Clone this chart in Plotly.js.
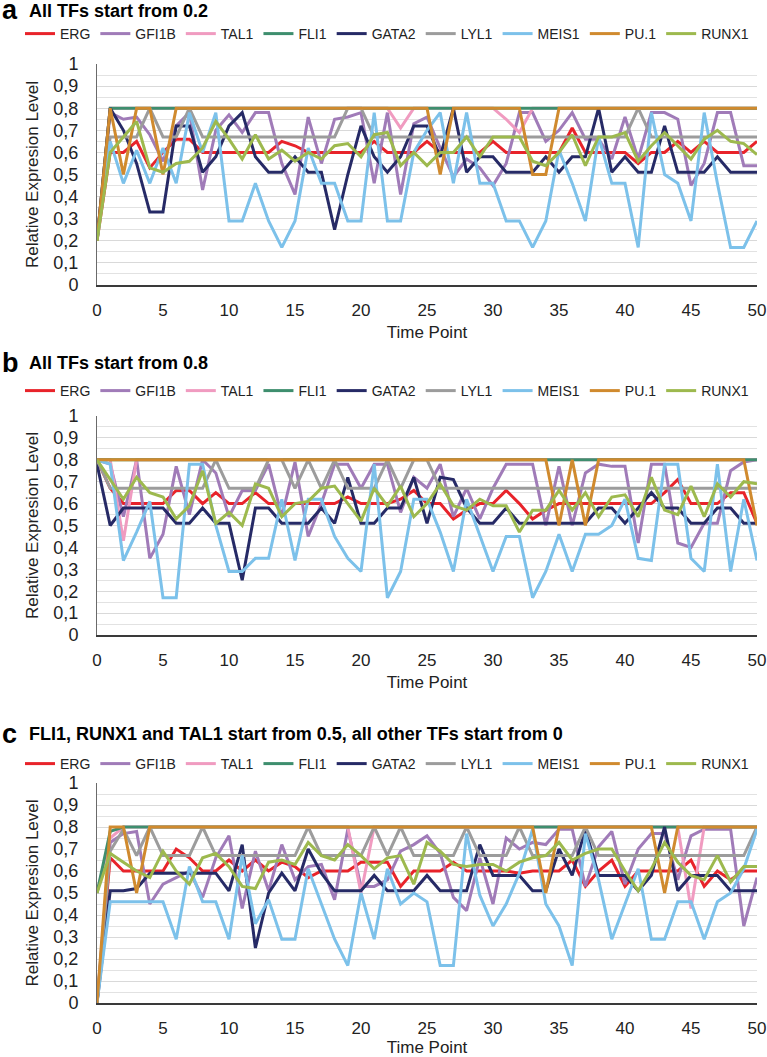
<!DOCTYPE html>
<html>
<head>
<meta charset="utf-8">
<script src="https://cdn.plot.ly/plotly-3.0.1.min.js"></script>
<style>
  html, body { margin: 0; padding: 0; background: #fff; }
  #chart { width: 767px; height: 1057px; }
</style>
</head>
<body>
<div id="chart"></div>
<script>
// ---------- categories ----------
const timePoints = [0,1,2,3,4,5,6,7,8,9,10,11,12,13,14,15,16,17,18,19,20,21,22,23,24,25,26,27,28,29,30,31,32,33,34,35,36,37,38,39,40,41,42,43,44,45,46,47,48,49,50];
const seriesNames = ['ERG','GFI1B','TAL1','FLI1','GATA2','LYL1','MEIS1','PU.1','RUNX1'];
const seriesColors = ['#E8232A','#A07BB8','#F09BC0','#3E8E6E','#262A66','#9C9C9C','#7CC1EA','#D08A2E','#9DB94E'];
const panelTitles = ['All TFs start from 0.2','All TFs start from 0.8','FLI1, RUNX1 and TAL1 start from 0.5, all other TFs start from 0'];
const panelLetters = ['a','b','c'];
const yTitle = 'Relative Expresion Level';
const xTitle = 'Time Point';

// ---------- panel a : all TFs start from 0.2 ----------
const ERG_a   = [0.2,0.6,0.6,0.65,0.53,0.6,0.66,0.66,0.6,0.6, 0.6,0.6,0.6,0.6,0.65,0.63,0.6,0.6,0.6,0.6, 0.6,0.65,0.6,0.6,0.6,0.65,0.6,0.6,0.6,0.6, 0.65,0.6,0.6,0.6,0.6,0.6,0.71,0.6,0.6,0.6, 0.6,0.55,0.6,0.6,0.65,0.6,0.65,0.6,0.6,0.6, 0.65];
const GFI1B_a = [0.2,0.78,0.75,0.76,0.68,0.56,0.72,0.78,0.43,0.7, 0.77,0.69,0.78,0.78,0.55,0.41,0.76,0.55,0.75,0.76, 0.78,0.46,0.78,0.41,0.73,0.76,0.62,0.49,0.57,0.53, 0.45,0.55,0.78,0.78,0.65,0.7,0.78,0.66,0.66,0.57, 0.76,0.57,0.78,0.78,0.75,0.45,0.55,0.78,0.78,0.54, 0.54];
const TAL1_a  = [0.2,0.8,0.8,0.8,0.8,0.8,0.8,0.8,0.8,0.8, 0.8,0.8,0.8,0.8,0.8,0.8,0.8,0.8,0.8,0.8, 0.8,0.8,0.8,0.71,0.8,0.8,0.8,0.8,0.8,0.8, 0.8,0.75,0.69,0.8,0.8,0.8,0.8,0.8,0.8,0.8, 0.8,0.8,0.8,0.8,0.8,0.8,0.8,0.8,0.8,0.8, 0.8];
const FLI1_a  = [0.2,0.8,0.8,0.8,0.8,0.8,0.8,0.8,0.8,0.8, 0.8,0.8,0.8,0.8,0.8,0.8,0.8,0.8,0.8,0.8, 0.8,0.8,0.8,0.8,0.8,0.8,0.8,0.8,0.8,0.8, 0.8,0.8,0.8,0.8,0.8,0.8,0.8,0.8,0.8,0.8, 0.8,0.8,0.8,0.8,0.8,0.8,0.8,0.8,0.8,0.8, 0.8];
const GATA2_a = [0.2,0.8,0.7,0.55,0.33,0.33,0.72,0.72,0.51,0.58, 0.72,0.78,0.58,0.51,0.51,0.58,0.51,0.51,0.25,0.5, 0.72,0.58,0.51,0.58,0.72,0.72,0.58,0.8,0.51,0.58, 0.58,0.51,0.51,0.51,0.58,0.51,0.58,0.58,0.8,0.51, 0.58,0.51,0.51,0.72,0.51,0.51,0.51,0.58,0.51,0.51, 0.51];
const LYL1_a  = [0.2,0.67,0.67,0.67,0.8,0.67,0.67,0.8,0.67,0.67, 0.67,0.67,0.67,0.67,0.67,0.67,0.67,0.67,0.67,0.8, 0.8,0.67,0.67,0.67,0.67,0.67,0.67,0.67,0.67,0.67, 0.67,0.67,0.67,0.67,0.67,0.67,0.67,0.67,0.67,0.67, 0.67,0.8,0.67,0.67,0.67,0.67,0.67,0.67,0.67,0.67, 0.67];
const MEIS1_a = [0.2,0.65,0.46,0.61,0.46,0.62,0.46,0.78,0.6,0.78, 0.29,0.29,0.46,0.29,0.17,0.29,0.62,0.46,0.46,0.29, 0.29,0.78,0.29,0.29,0.6,0.7,0.78,0.46,0.78,0.46, 0.46,0.29,0.29,0.17,0.29,0.61,0.46,0.29,0.67,0.46, 0.46,0.17,0.78,0.5,0.46,0.29,0.78,0.46,0.17,0.17, 0.29];
const PU1_a   = [0.2,0.8,0.5,0.8,0.8,0.5,0.8,0.8,0.8,0.8, 0.8,0.8,0.8,0.8,0.8,0.8,0.8,0.8,0.8,0.8, 0.8,0.8,0.8,0.8,0.8,0.8,0.5,0.8,0.8,0.8, 0.8,0.8,0.8,0.5,0.5,0.8,0.8,0.8,0.8,0.8, 0.8,0.8,0.8,0.8,0.8,0.8,0.8,0.8,0.8,0.8, 0.8];
const RUNX1_a = [0.2,0.6,0.67,0.74,0.53,0.51,0.55,0.56,0.62,0.74, 0.66,0.57,0.68,0.57,0.61,0.56,0.6,0.57,0.63,0.64, 0.58,0.68,0.69,0.54,0.6,0.54,0.6,0.6,0.67,0.58, 0.67,0.67,0.67,0.56,0.54,0.6,0.68,0.54,0.67,0.67, 0.69,0.56,0.63,0.69,0.63,0.57,0.66,0.7,0.65,0.64, 0.59];

// ---------- panel b : all TFs start from 0.8 ----------
const ERG_b   = [0.8,0.67,0.6,0.6,0.6,0.6,0.66,0.66,0.6,0.65, 0.6,0.6,0.65,0.6,0.6,0.6,0.6,0.6,0.6,0.63, 0.6,0.6,0.6,0.62,0.66,0.6,0.6,0.53,0.57,0.6, 0.6,0.66,0.6,0.53,0.57,0.6,0.6,0.6,0.6,0.6, 0.6,0.6,0.6,0.65,0.71,0.6,0.6,0.6,0.65,0.65, 0.51];
const GFI1B_b = [0.8,0.78,0.54,0.8,0.35,0.46,0.77,0.55,0.8,0.74, 0.54,0.66,0.66,0.78,0.54,0.79,0.45,0.6,0.78,0.78, 0.67,0.78,0.78,0.56,0.72,0.67,0.78,0.54,0.67,0.53, 0.67,0.78,0.78,0.78,0.5,0.77,0.5,0.74,0.78,0.77, 0.77,0.42,0.78,0.78,0.42,0.4,0.51,0.51,0.75,0.79, 0.8];
const TAL1_b  = [0.8,0.8,0.43,0.8,0.8,0.8,0.8,0.8,0.8,0.8, 0.8,0.8,0.8,0.8,0.8,0.8,0.8,0.8,0.8,0.8, 0.8,0.8,0.8,0.8,0.8,0.8,0.8,0.8,0.8,0.8, 0.8,0.8,0.8,0.8,0.8,0.8,0.8,0.8,0.8,0.8, 0.8,0.8,0.8,0.8,0.8,0.8,0.8,0.8,0.8,0.8, 0.8];
const FLI1_b  = [0.8,0.8,0.8,0.8,0.8,0.8,0.8,0.8,0.8,0.8, 0.8,0.8,0.8,0.8,0.8,0.8,0.8,0.8,0.8,0.8, 0.8,0.8,0.8,0.8,0.8,0.8,0.8,0.8,0.8,0.8, 0.8,0.8,0.8,0.8,0.8,0.8,0.8,0.8,0.8,0.8, 0.8,0.8,0.8,0.8,0.8,0.8,0.8,0.8,0.8,0.8, 0.8];
const GATA2_b = [0.78,0.5,0.58,0.58,0.58,0.58,0.51,0.51,0.58,0.51, 0.51,0.25,0.58,0.58,0.51,0.51,0.51,0.58,0.51,0.72, 0.51,0.51,0.58,0.58,0.72,0.51,0.72,0.71,0.58,0.51, 0.51,0.58,0.51,0.51,0.51,0.51,0.51,0.51,0.58,0.58, 0.51,0.58,0.65,0.58,0.58,0.51,0.51,0.58,0.58,0.51, 0.51];
const LYL1_b  = [0.8,0.67,0.67,0.67,0.67,0.67,0.67,0.67,0.67,0.8, 0.67,0.67,0.67,0.8,0.8,0.67,0.8,0.67,0.8,0.67, 0.67,0.67,0.8,0.67,0.8,0.8,0.67,0.67,0.67,0.67, 0.67,0.67,0.67,0.67,0.67,0.67,0.67,0.67,0.67,0.67, 0.67,0.67,0.67,0.67,0.67,0.67,0.67,0.67,0.67,0.67, 0.67];
const MEIS1_b = [0.8,0.78,0.34,0.47,0.61,0.17,0.17,0.78,0.78,0.5, 0.29,0.29,0.35,0.35,0.62,0.34,0.62,0.62,0.45,0.35, 0.29,0.78,0.17,0.29,0.62,0.62,0.47,0.29,0.62,0.45, 0.29,0.45,0.45,0.17,0.29,0.46,0.29,0.46,0.46,0.5, 0.62,0.35,0.34,0.78,0.78,0.35,0.29,0.78,0.29,0.62, 0.34];
const PU1_b   = [0.8,0.8,0.8,0.8,0.8,0.8,0.8,0.8,0.8,0.8, 0.8,0.8,0.8,0.8,0.8,0.8,0.8,0.8,0.8,0.8, 0.8,0.8,0.8,0.8,0.8,0.8,0.8,0.8,0.8,0.8, 0.8,0.8,0.8,0.8,0.8,0.5,0.8,0.5,0.8,0.8, 0.8,0.8,0.8,0.8,0.8,0.8,0.8,0.8,0.8,0.8, 0.5];
const RUNX1_b = [0.8,0.71,0.62,0.72,0.65,0.63,0.53,0.59,0.75,0.51, 0.56,0.5,0.69,0.67,0.54,0.6,0.61,0.67,0.68,0.6, 0.52,0.67,0.59,0.68,0.54,0.6,0.69,0.59,0.57,0.62, 0.59,0.59,0.47,0.57,0.57,0.66,0.57,0.65,0.54,0.63, 0.64,0.54,0.72,0.57,0.55,0.68,0.54,0.69,0.63,0.7, 0.69];

// ---------- panel c : FLI1, RUNX1, TAL1 start from 0.5, others from 0 ----------
const ERG_c   = [0,0.66,0.6,0.6,0.6,0.6,0.7,0.66,0.6,0.6, 0.65,0.6,0.65,0.6,0.64,0.62,0.57,0.6,0.6,0.6, 0.64,0.64,0.64,0.53,0.6,0.6,0.6,0.64,0.6,0.6, 0.6,0.6,0.59,0.6,0.6,0.6,0.65,0.53,0.6,0.65, 0.53,0.6,0.6,0.6,0.6,0.65,0.53,0.6,0.56,0.6, 0.6];
const GFI1B_c = [0,0.73,0.77,0.78,0.45,0.54,0.57,0.6,0.48,0.66, 0.76,0.43,0.69,0.51,0.72,0.56,0.62,0.63,0.47,0.79, 0.53,0.53,0.56,0.69,0.72,0.76,0.68,0.48,0.42,0.66, 0.45,0.75,0.7,0.73,0.72,0.79,0.79,0.53,0.71,0.78, 0.54,0.7,0.77,0.77,0.56,0.76,0.79,0.79,0.79,0.35, 0.57];
const TAL1_c  = [0.5,0.75,0.8,0.8,0.8,0.8,0.8,0.8,0.8,0.8, 0.8,0.8,0.8,0.8,0.8,0.8,0.8,0.8,0.8,0.8, 0.5,0.8,0.8,0.8,0.8,0.8,0.8,0.8,0.8,0.8, 0.8,0.8,0.8,0.8,0.8,0.8,0.8,0.8,0.8,0.8, 0.8,0.8,0.8,0.8,0.8,0.43,0.8,0.8,0.8,0.8, 0.8];
const FLI1_c  = [0.5,0.78,0.8,0.8,0.8,0.8,0.8,0.8,0.8,0.8, 0.8,0.8,0.8,0.8,0.8,0.8,0.8,0.8,0.8,0.8, 0.8,0.8,0.8,0.8,0.8,0.8,0.8,0.8,0.8,0.8, 0.8,0.8,0.8,0.8,0.8,0.8,0.8,0.8,0.8,0.8, 0.8,0.8,0.8,0.8,0.8,0.8,0.8,0.8,0.8,0.8, 0.8];
const GATA2_c = [0,0.51,0.51,0.52,0.59,0.59,0.59,0.59,0.59,0.59, 0.51,0.72,0.25,0.5,0.59,0.51,0.7,0.59,0.51,0.51, 0.51,0.58,0.51,0.51,0.51,0.58,0.51,0.51,0.51,0.72, 0.58,0.58,0.58,0.51,0.51,0.7,0.58,0.79,0.58,0.58, 0.58,0.51,0.58,0.8,0.51,0.58,0.58,0.58,0.51,0.51, 0.51];
const LYL1_c  = [0,0.69,0.79,0.67,0.8,0.67,0.67,0.67,0.8,0.67, 0.67,0.67,0.67,0.67,0.67,0.67,0.8,0.67,0.67,0.67, 0.67,0.8,0.67,0.8,0.67,0.67,0.67,0.67,0.8,0.67, 0.67,0.67,0.8,0.67,0.67,0.67,0.67,0.8,0.67,0.67, 0.67,0.67,0.67,0.67,0.67,0.67,0.67,0.67,0.67,0.67, 0.8];
const MEIS1_c = [0,0.46,0.46,0.46,0.46,0.46,0.29,0.62,0.46,0.46, 0.29,0.67,0.36,0.47,0.29,0.29,0.61,0.45,0.29,0.17, 0.5,0.29,0.61,0.45,0.5,0.46,0.17,0.17,0.77,0.49, 0.35,0.45,0.59,0.79,0.45,0.35,0.17,0.77,0.56,0.29, 0.45,0.61,0.29,0.29,0.46,0.46,0.29,0.46,0.5,0.61, 0.79];
const PU1_c   = [0,0.8,0.8,0.5,0.8,0.8,0.8,0.8,0.8,0.8, 0.8,0.8,0.8,0.8,0.8,0.8,0.8,0.8,0.8,0.8, 0.8,0.8,0.8,0.8,0.8,0.8,0.8,0.8,0.8,0.8, 0.8,0.8,0.8,0.8,0.5,0.8,0.8,0.8,0.8,0.8, 0.8,0.8,0.8,0.5,0.8,0.8,0.8,0.8,0.8,0.8, 0.8];
const RUNX1_c = [0.5,0.68,0.64,0.6,0.57,0.69,0.6,0.54,0.66,0.68, 0.62,0.53,0.52,0.64,0.65,0.63,0.73,0.67,0.65,0.72, 0.67,0.61,0.66,0.67,0.54,0.73,0.69,0.63,0.62,0.63, 0.63,0.6,0.64,0.66,0.67,0.73,0.65,0.68,0.7,0.7, 0.6,0.51,0.61,0.73,0.64,0.58,0.56,0.67,0.55,0.62, 0.62];

const panelData = [
  [ERG_a, GFI1B_a, TAL1_a, FLI1_a, GATA2_a, LYL1_a, MEIS1_a, PU1_a, RUNX1_a],
  [ERG_b, GFI1B_b, TAL1_b, FLI1_b, GATA2_b, LYL1_b, MEIS1_b, PU1_b, RUNX1_b],
  [ERG_c, GFI1B_c, TAL1_c, FLI1_c, GATA2_c, LYL1_c, MEIS1_c, PU1_c, RUNX1_c]
];

// ---------- geometry (pixels) ----------
const W = 767, H = 1057;
const plotLeft = 97, plotRight = 757;
const plotTop = [64, 416, 783];
const plotBottom = [285, 635, 1003];
const headingY = [10, 363, 734];
const legendY = [34, 391, 764];
const FONT = "'Liberation Sans', Arial, sans-serif";

const px2x = p => p / W;
const py2y = p => 1 - p / H;

const traces = [];
const layout = {
  width: W, height: H,
  margin: {l: 0, r: 0, t: 0, b: 0, pad: 0, autoexpand: false},
  separators: ', ',
  paper_bgcolor: '#ffffff',
  plot_bgcolor: '#ffffff',
  font: {family: FONT, color: '#222222', size: 16},
  annotations: [],
  hovermode: false
};

for (let p = 0; p < 3; p++) {
  const sfx = p === 0 ? '' : String(p + 1);
  const legKey = 'legend' + sfx;
  for (let s = 0; s < seriesNames.length; s++) {
    traces.push({
      type: 'scatter', mode: 'lines',
      x: timePoints, y: panelData[p][s],
      name: seriesNames[s],
      xaxis: 'x' + sfx, yaxis: 'y' + sfx,
      legend: legKey,
      line: {color: seriesColors[s], width: 3}
    });
  }
  layout['xaxis' + sfx] = {
    domain: [px2x(plotLeft), px2x(plotRight)], anchor: 'y' + sfx,
    range: [0, 50], tick0: 0, dtick: 5,
    showgrid: false, zeroline: false, automargin: false,
    showline: true, linecolor: '#3a3a3a', linewidth: 1.5,
    ticks: 'outside', ticklen: 9, tickcolor: 'rgba(0,0,0,0)',
    tickfont: {size: 17, color: '#222'},
    title: {text: xTitle, font: {size: 17, color: '#222'}, standoff: 7}
  };
  layout['yaxis' + sfx] = {
    domain: [py2y(plotBottom[p]), py2y(plotTop[p])], anchor: 'x' + sfx,
    range: [0, 1], tick0: 0, dtick: 0.1,
    showgrid: true, gridcolor: '#D9D9D9', gridwidth: 1,
    minor: {dtick: 0.05, showgrid: true, gridcolor: '#E2E2E2', gridwidth: 1},
    zeroline: false, automargin: false,
    showline: true, linecolor: '#6a6a6a', linewidth: 1,
    ticks: 'outside', ticklen: 14, tickcolor: 'rgba(0,0,0,0)',
    tickfont: {size: 18, color: '#222'},
    title: {text: yTitle, font: {size: 17, color: '#222'}, standoff: 10}
  };
  layout[legKey] = {
    orientation: 'h',
    xref: 'paper', yref: 'paper',
    x: px2x(20), xanchor: 'left',
    y: py2y(legendY[p]), yanchor: 'middle',
    font: {size: 14, color: '#222'},
    bgcolor: 'rgba(0,0,0,0)',
    traceorder: 'normal'
  };
  layout.annotations.push({
    xref: 'paper', yref: 'paper',
    x: px2x(0), y: py2y(headingY[p]),
    xanchor: 'left', yanchor: 'middle',
    text: '<b>' + panelLetters[p] + '</b>',
    showarrow: false,
    font: {size: 27, color: '#000', family: FONT}
  });
  layout.annotations.push({
    xref: 'paper', yref: 'paper',
    x: px2x(27), y: py2y(headingY[p] + (p === 0 ? 1 : 0)),
    xanchor: 'left', yanchor: 'middle',
    text: '<b>' + panelTitles[p] + '</b>',
    showarrow: false,
    font: {size: 18, color: '#000', family: FONT}
  });
}

Plotly.newPlot('chart', traces, layout, {staticPlot: true, displayModeBar: false});
</script>
</body>
</html>
